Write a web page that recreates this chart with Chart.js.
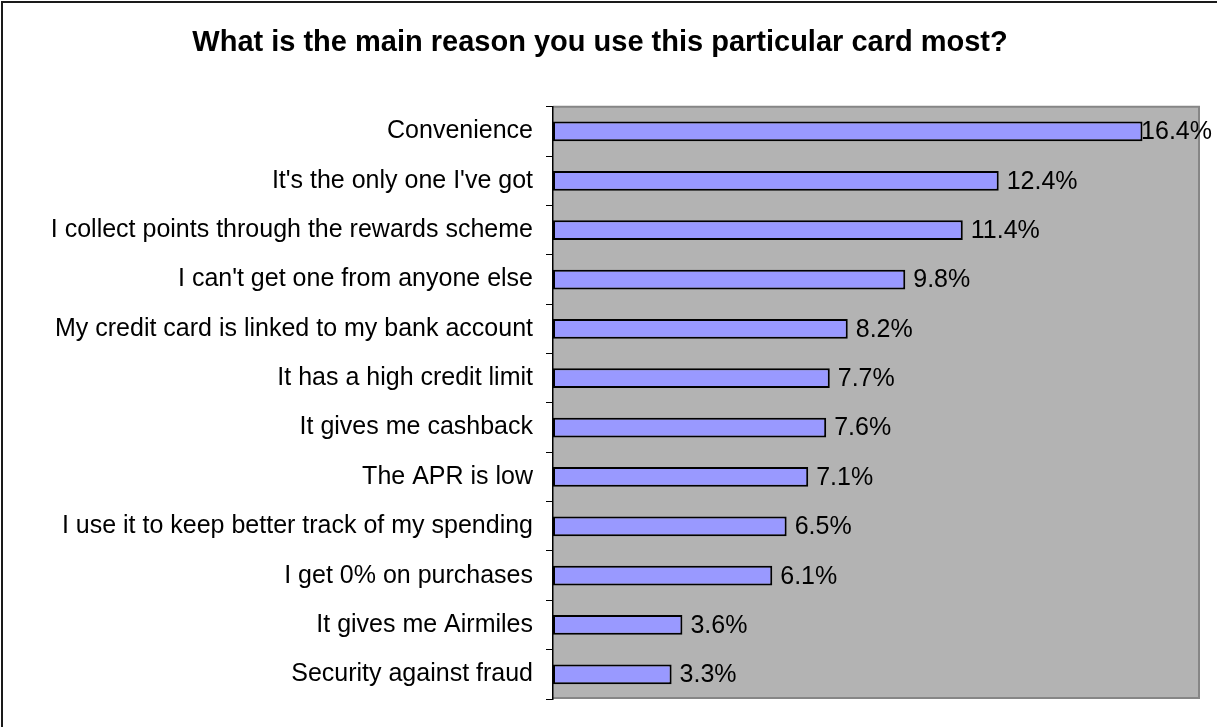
<!DOCTYPE html>
<html>
<head>
<meta charset="utf-8">
<title>Main reason for using this card</title>
<script src="https://cdn.jsdelivr.net/npm/chart.js@4.4.1/dist/chart.umd.min.js"></script>
<style>
  html, body { margin: 0; padding: 0; background: #ffffff; }
  canvas { display: block; }
</style>
</head>
<body>
<canvas id="chart" width="1217" height="727"></canvas>
<script>
// Survey answers, top to bottom
const categories = [
  "Convenience",
  "It's the only one I've got",
  "I collect points through the rewards scheme",
  "I can't get one from anyone else",
  "My credit card is linked to my bank account",
  "It has a high credit limit",
  "It gives me cashback",
  "The APR is low",
  "I use it to keep better track of my spending",
  "I get 0% on purchases",
  "It gives me Airmiles",
  "Security against fraud"
];

// Share of respondents, in percent
const shares = [16.4, 12.4, 11.4, 9.8, 8.2, 7.7, 7.6, 7.1, 6.5, 6.1, 3.6, 3.3];

const chartTitle = "What is the main reason you use this particular card most?";
const axisMin = 0;
const axisMax = 18;

const FONT = "'Liberation Sans', Arial, Helvetica, sans-serif";

// Grey plot area with a darker outline on the right and bottom
const plotBackground = {
  id: 'plotBackground',
  beforeDraw(chart) {
    const { ctx, chartArea: a } = chart;
    ctx.save();
    ctx.fillStyle = '#b3b3b3';
    ctx.fillRect(a.left, a.top, a.right - a.left, a.bottom - a.top);
    ctx.strokeStyle = '#868686';
    ctx.lineWidth = 2;
    ctx.beginPath();
    ctx.moveTo(a.left, a.top);
    ctx.lineTo(a.right - 1, a.top);
    ctx.lineTo(a.right - 1, a.bottom - 1);
    ctx.lineTo(a.left, a.bottom - 1);
    ctx.stroke();
    ctx.restore();
  }
};

// Percentage label to the right of each bar
const valueLabels = {
  id: 'valueLabels',
  afterDatasetsDraw(chart) {
    const { ctx } = chart;
    const meta = chart.getDatasetMeta(0);
    const values = chart.data.datasets[0].data;
    ctx.save();
    ctx.font = '25px ' + FONT;
    ctx.fillStyle = '#000000';
    ctx.textBaseline = 'middle';
    ctx.textAlign = 'left';
    meta.data.forEach((bar, i) => {
      const text = values[i].toFixed(1) + '%';
      const w = ctx.measureText(text).width;
      let x = bar.x + 8;
      if (x + w > chart.width - 5) x = chart.width - 5 - w;
      ctx.fillText(text, x, bar.y + 1);
    });
    ctx.restore();
  }
};

// Outer frame along the left and top edges
const frame = {
  id: 'frame',
  afterDraw(chart) {
    const { ctx } = chart;
    ctx.save();
    ctx.fillStyle = '#1a1a1a';
    ctx.fillRect(1, 1, 2, chart.height - 1);
    ctx.fillRect(1, 1, chart.width - 1, 2);
    ctx.restore();
  }
};

new Chart(document.getElementById('chart'), {
  type: 'bar',
  data: {
    labels: categories,
    datasets: [{
      data: shares,
      backgroundColor: '#9999ff',
      borderColor: '#000000',
      borderWidth: 2,
      borderSkipped: false,
      barPercentage: 0.4,
      categoryPercentage: 1.0
    }]
  },
  options: {
    indexAxis: 'y',
    responsive: false,
    animation: false,
    devicePixelRatio: 1,
    layout: { padding: { left: 0, right: 17, top: 0, bottom: 18 } },
    plugins: {
      legend: { display: false },
      tooltip: { enabled: false },
      title: {
        display: true,
        text: chartTitle,
        color: '#000000',
        font: { family: FONT, size: 29, weight: 'bold' },
        padding: { top: 26, bottom: 46 }
      }
    },
    scales: {
      x: {
        display: false,
        min: axisMin,
        max: axisMax
      },
      y: {
        offset: true,
        grid: {
          offset: true,
          drawOnChartArea: false,
          color: '#000000',
          tickLength: 7,
          tickWidth: 1
        },
        border: { color: '#000000', width: 1.5 },
        ticks: {
          color: '#000000',
          padding: 13,
          font: { family: FONT, size: 25 }
        },
        afterFit(scale) { scale.width = 553; }
      }
    }
  },
  plugins: [plotBackground, valueLabels, frame]
});
</script>
</body>
</html>
